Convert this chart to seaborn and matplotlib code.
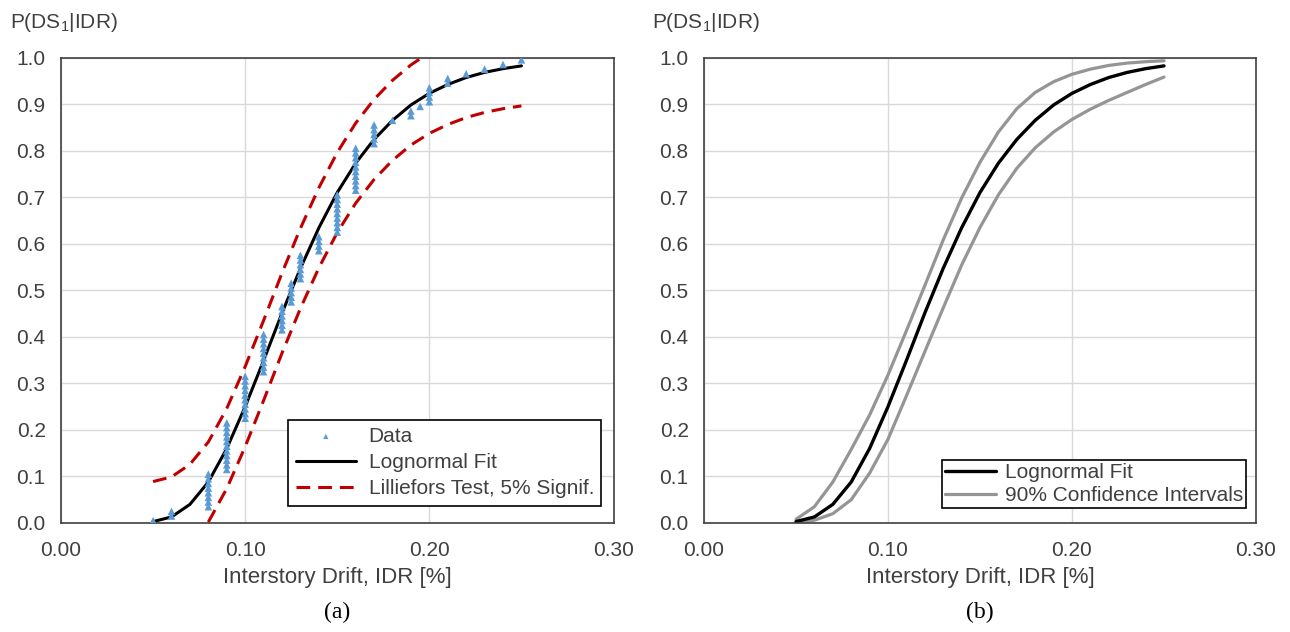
import matplotlib
matplotlib.use("Agg")
import matplotlib.pyplot as plt
from matplotlib.ticker import FormatStrFormatter
import numpy as np
import seaborn as sns

# observed drift values [%] and number of records at each value
idr_obs = [0.05, 0.06, 0.08, 0.09, 0.10, 0.11, 0.12, 0.125, 0.13, 0.14, 0.15,
           0.16, 0.17, 0.18, 0.19, 0.195, 0.20, 0.21, 0.22, 0.23, 0.24, 0.25]
idr_count = [1, 2, 8, 11, 10, 9, 6, 5, 6, 4, 9,
             10, 5, 1, 2, 1, 4, 2, 1, 1, 1, 1]

# curves at 0.01 steps
idr_grid = [0.05, 0.06, 0.07, 0.08, 0.09, 0.10, 0.11, 0.12, 0.13, 0.14, 0.15,
            0.16, 0.17, 0.18, 0.19, 0.20, 0.21, 0.22, 0.23, 0.24, 0.25]
p_fit = [0.003, 0.013, 0.040, 0.088, 0.160, 0.250, 0.349, 0.451, 0.547, 0.634, 0.710,
         0.773, 0.824, 0.865, 0.898, 0.923, 0.942, 0.957, 0.968, 0.976, 0.982]
ci_upper = [0.008, 0.035, 0.088, 0.158, 0.232, 0.318, 0.413, 0.510, 0.608, 0.698, 0.775,
            0.840, 0.890, 0.925, 0.948, 0.964, 0.975, 0.983, 0.988, 0.991, 0.993]
ci_lower = [0.001, 0.006, 0.020, 0.050, 0.107, 0.180, 0.273, 0.368, 0.462, 0.554, 0.635,
            0.705, 0.762, 0.806, 0.840, 0.867, 0.889, 0.908, 0.925, 0.942, 0.958]

# Lilliefors bounds
ks_up_x = [0.05, 0.06, 0.07, 0.08, 0.09, 0.10, 0.11, 0.12, 0.13, 0.14, 0.15,
           0.16, 0.17, 0.18, 0.19, 0.196]
ks_up = [0.089, 0.099, 0.126, 0.174, 0.246, 0.336, 0.435, 0.537, 0.633, 0.720, 0.796,
         0.859, 0.910, 0.951, 0.984, 1.0]
ks_lo_x = [0.08, 0.09, 0.10, 0.11, 0.12, 0.13, 0.14, 0.15, 0.16,
           0.17, 0.18, 0.19, 0.20, 0.21, 0.22, 0.23, 0.24, 0.25]
ks_lo = [0.002, 0.074, 0.164, 0.263, 0.365, 0.461, 0.548, 0.624, 0.687,
         0.738, 0.779, 0.812, 0.837, 0.856, 0.871, 0.882, 0.890, 0.896]

# empirical probabilities of the sorted records
samples = np.repeat(idr_obs, idr_count)
n = len(samples)
p_emp = (np.arange(1, n + 1) - 0.5) / n

sns.set_theme(style="white")
plt.rcParams['font.family'] = ['Liberation Sans', 'DejaVu Sans']
plt.rcParams['mathtext.default'] = 'regular'

TXT = '#404040'
W, H = 1290, 632
fig = plt.figure(figsize=(12.9, 6.32), dpi=100)


def box(l, t, r, b):
    return [l / W, 1 - b / H, (r - l) / W, (b - t) / H]


ax_a = fig.add_axes(box(61, 57.5, 613.5, 523))
ax_b = fig.add_axes(box(704, 57.5, 1256, 523))

for ax in (ax_a, ax_b):
    ax.set_xlim(0, 0.3)
    ax.set_ylim(0, 1)
    ax.set_xticks([0, 0.1, 0.2, 0.3])
    ax.set_yticks(np.linspace(0, 1, 11))
    ax.xaxis.set_major_formatter(FormatStrFormatter('%.2f'))
    ax.yaxis.set_major_formatter(FormatStrFormatter('%.1f'))
    ax.grid(True, color='#d9d9d9', lw=1.0)
    ax.set_axisbelow(True)
    for s in ax.spines.values():
        s.set_color(TXT)
        s.set_linewidth(1.2)
    ax.tick_params(axis='y', length=0, pad=11, labelsize=15, labelcolor=TXT)
    ax.tick_params(axis='x', direction='inout', length=6, width=1, color=TXT,
                   pad=10, labelsize=15, labelcolor=TXT)

# (a) data, fit and Lilliefors bounds
sns.scatterplot(x=samples, y=p_emp, marker='^', s=30, color='#5B9BD5',
                edgecolor='none', ax=ax_a, label='Data', zorder=5)
sns.lineplot(x=idr_grid, y=p_fit, color='black', lw=2.2, ax=ax_a,
             label='Lognormal Fit', zorder=4)
sns.lineplot(x=ks_up_x, y=ks_up, color='#C00000', lw=2.2,
             linestyle=(0, (4.5, 2.6)), ax=ax_a,
             label='Lilliefors Test, 5% Signif.', zorder=4)
sns.lineplot(x=ks_lo_x, y=ks_lo, color='#C00000', lw=2.2,
             linestyle=(0, (4.5, 2.6)), ax=ax_a, label='_nolegend_', zorder=4)

h, l = ax_a.get_legend_handles_labels()
leg = ax_a.legend(h, l, loc='lower right', bbox_to_anchor=(0.978, 0.037),
                  borderaxespad=0, fontsize=15, frameon=True, fancybox=False,
                  framealpha=1, edgecolor='black', handlelength=2.9,
                  handletextpad=0.6, labelspacing=0.35, borderpad=0.35,
                  scatterpoints=1, markerscale=0.7, labelcolor=TXT)
leg.get_frame().set_linewidth(1.2)
leg.set_zorder(6)

# (b) fit with confidence intervals
sns.lineplot(x=idr_grid, y=ci_upper, color='#959595', lw=2.3, ax=ax_b,
             label='90% Confidence Intervals')
sns.lineplot(x=idr_grid, y=ci_lower, color='#959595', lw=2.3, ax=ax_b,
             label='_nolegend_')
sns.lineplot(x=idr_grid, y=p_fit, color='black', lw=2.4, ax=ax_b,
             label='Lognormal Fit')

h, l = ax_b.get_legend_handles_labels()
order = [l.index('Lognormal Fit'), l.index('90% Confidence Intervals')]
leg = ax_b.legend([h[i] for i in order], [l[i] for i in order],
                  loc='lower right', bbox_to_anchor=(0.982, 0.032),
                  borderaxespad=0, fontsize=15, frameon=True, fancybox=False,
                  framealpha=1, edgecolor='black', handlelength=2.45,
                  handletextpad=0.4, labelspacing=0.2, borderpad=0.15,
                  labelcolor=TXT)
leg.get_frame().set_linewidth(1.2)

for ax in (ax_a, ax_b):
    ax.set_xlabel('')
    ax.set_ylabel('')

# titles above the y axes, axis labels and panel letters
fig.text(10 / W, 1 - 23 / H, 'P(DS$_1$|IDR)', fontsize=15, color=TXT, va='center')
fig.text(652 / W, 1 - 23 / H, 'P(DS$_1$|IDR)', fontsize=15, color=TXT, va='center')
for cx, letter in ((337, '(a)'), (980, '(b)')):
    fig.text(cx / W, 1 - 578 / H, 'Interstory Drift, IDR [%]', fontsize=16,
             color=TXT, ha='center', va='center')
    fig.text(cx / W, 1 - 612 / H, letter, fontsize=17, color='black',
             ha='center', va='center', family=['Liberation Serif', 'DejaVu Serif'])

fig.savefig('out.png', dpi=100)
